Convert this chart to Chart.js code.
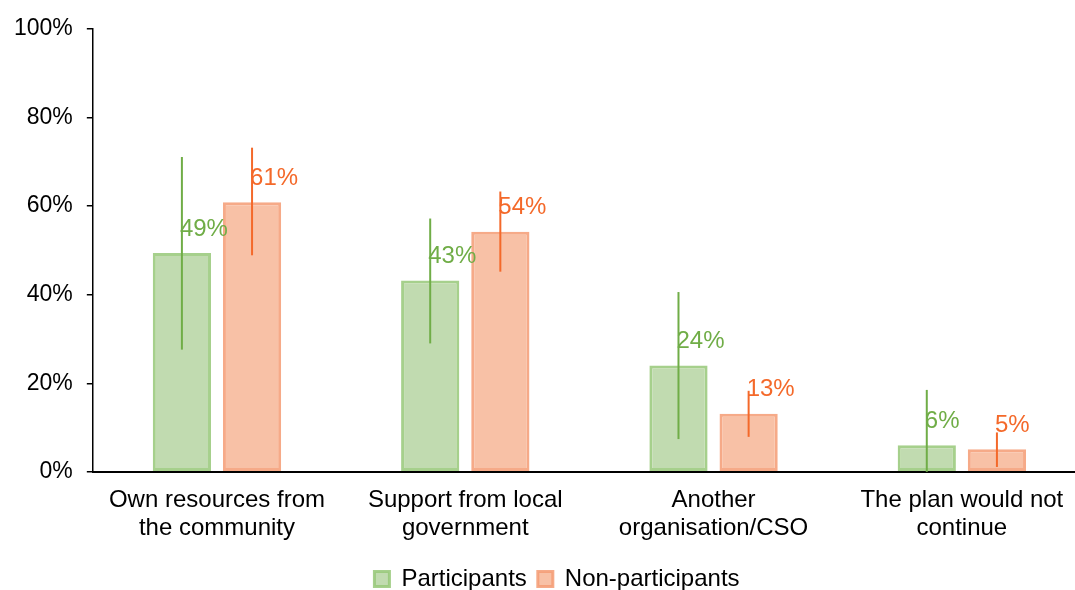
<!DOCTYPE html>
<html>
<head>
<meta charset="utf-8">
<script src="https://cdn.jsdelivr.net/npm/chart.js@4.4.0/dist/chart.umd.min.js"></script>
<style>
    html, body { margin: 0; padding: 0; background: #fff; overflow: hidden; }
    #wrap { width: 1087px; height: 590px; position: relative; }
</style>
</head>
<body>
<div id="wrap"><canvas id="chart-bar"></canvas></div>
<script>
var categories = [
    ["Own resources from", "the community"],
    ["Support from local", "government"],
    ["Another", "organisation/CSO"],
    ["The plan would not", "continue"]
];
var yTickLabels = ["0%", "20%", "40%", "60%", "80%", "100%"];

var participants = [49.4, 43.2, 24.0, 6.0];
var participantsLow = [27.6, 29.0, 7.4, 0];
var participantsHigh = [71.1, 57.2, 40.6, 18.5];

var nonParticipants = [60.9, 54.2, 13.1, 5.1];
var nonParticipantsLow = [48.9, 45.2, 7.9, 1.1];
var nonParticipantsHigh = [73.2, 63.3, 18.3, 8.9];

var green = '#70ad47';
var orange = '#f4692a';
var fontFamily = '"Liberation Sans", Arial, sans-serif';

// error bars + value labels on top of the bars
var errorBarsPlugin = {
    id: 'errorBars',
    afterDatasetsDraw: function(chart) {
        var ctx = chart.ctx;
        var yScale = chart.scales.y;
        chart.data.datasets.forEach(function(ds, i) {
            var meta = chart.getDatasetMeta(i);
            meta.data.forEach(function(bar, j) {
                ctx.save();
                ctx.strokeStyle = ds.errorColor;
                ctx.lineWidth = 2;
                ctx.beginPath();
                ctx.moveTo(bar.x, yScale.getPixelForValue(ds.low[j]));
                ctx.lineTo(bar.x, yScale.getPixelForValue(ds.high[j]));
                ctx.stroke();

                ctx.fillStyle = ds.errorColor;
                ctx.font = '24px ' + fontFamily;
                ctx.textAlign = 'left';
                ctx.textBaseline = 'middle';
                ctx.fillText(Math.round(ds.data[j]) + '%', bar.x - 2, bar.y - 24);
                ctx.restore();
            });
        });
    }
};

// nudge the legend a bit to the right, like the original
var legendShift = {
    id: 'legendShift',
    afterLayout: function(chart) {
        chart.legend.left += 14;
        chart.legend.right += 14;
    }
};

var ctx = document.getElementById("chart-bar").getContext("2d");

window.chart = new Chart(ctx, {
    type: "bar",
    data: {
        labels: categories,
        datasets: [{
            label: "Participants",
            data: participants,
            low: participantsLow,
            high: participantsHigh,
            errorColor: green,
            backgroundColor: '#c1dbb0',
            borderColor: 'rgba(150, 200, 120, 0.85)',
            borderWidth: 3,
            borderSkipped: false,
            barPercentage: 0.83,
            categoryPercentage: 0.565
        }, {
            label: "Non-participants",
            data: nonParticipants,
            low: nonParticipantsLow,
            high: nonParticipantsHigh,
            errorColor: orange,
            backgroundColor: '#f8c1a6',
            borderColor: 'rgba(245, 155, 115, 0.85)',
            borderWidth: 3,
            borderSkipped: false,
            barPercentage: 0.83,
            categoryPercentage: 0.565
        }],
    },
    options: {
        responsive: true,
        maintainAspectRatio: false,
        animation: false,
        layout: {
            padding: { left: 0, right: 1, top: 29, bottom: -11 }
        },
        plugins: {
            legend: {
                display: true,
                position: 'bottom',
                labels: {
                    color: '#000',
                    boxWidth: 15,
                    boxHeight: 15,
                    padding: 11,
                    font: { size: 24, family: fontFamily }
                }
            },
            tooltip: { enabled: false }
        },
        scales: {
            y: {
                min: 0,
                max: 100,
                ticks: {
                    stepSize: 20,
                    color: '#000',
                    padding: 14,
                    font: { size: 23, family: fontFamily },
                    callback: function(value, index) { return yTickLabels[index]; }
                },
                grid: {
                    display: true,
                    drawOnChartArea: false,
                    drawTicks: true,
                    tickLength: 6,
                    color: '#000',
                    lineWidth: 1.5
                },
                border: { display: true, color: '#000', width: 1.5 }
            },
            x: {
                ticks: {
                    color: '#000',
                    padding: 14,
                    maxRotation: 0,
                    font: { size: 24, family: fontFamily, lineHeight: 1.17 }
                },
                grid: { display: false, drawTicks: false },
                border: { display: true, color: '#000', width: 2 }
            }
        }
    },
    plugins: [errorBarsPlugin, legendShift]
});
</script>
</body>
</html>
